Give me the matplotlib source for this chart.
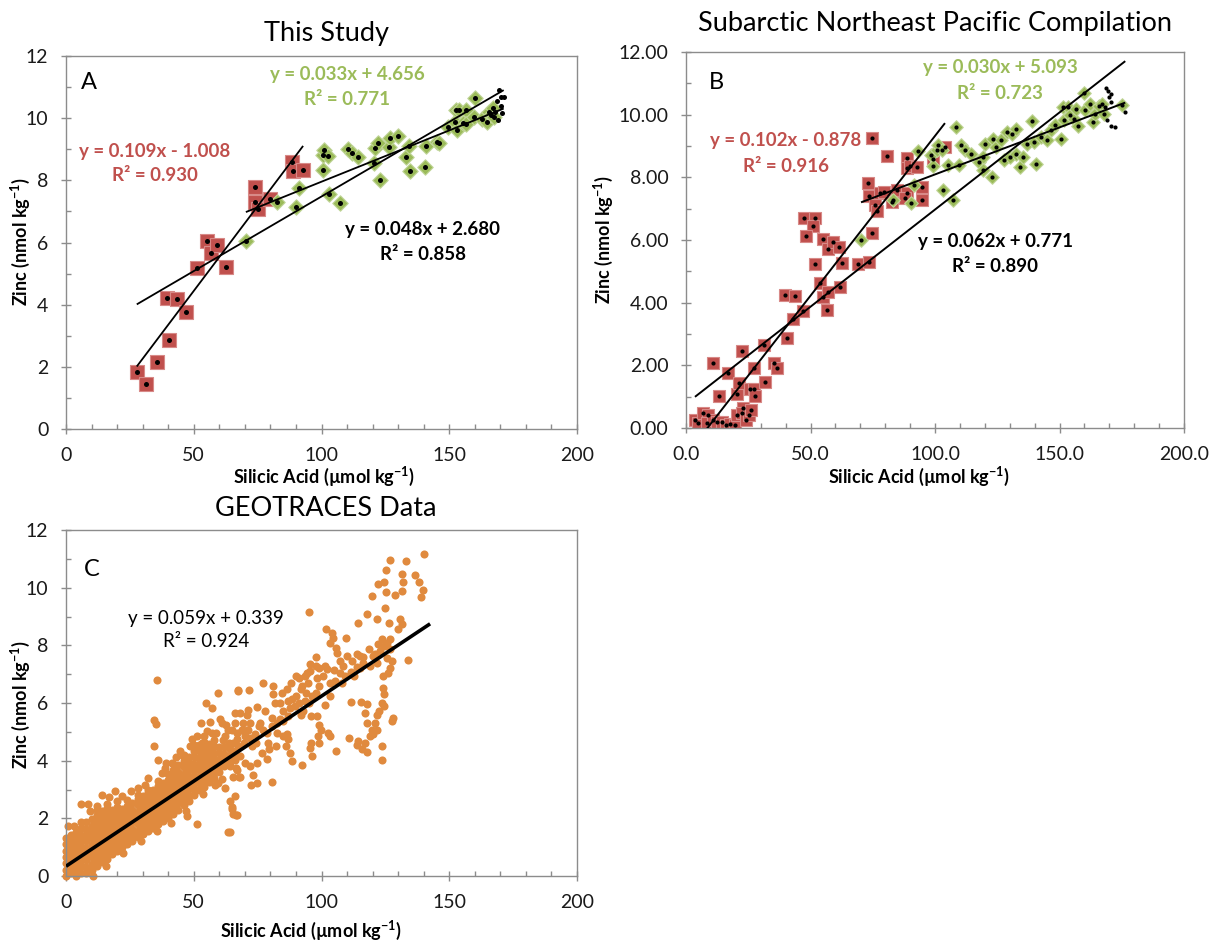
import numpy as np
import matplotlib
matplotlib.use("Agg")
import matplotlib.pyplot as plt
from matplotlib.ticker import MultipleLocator, FormatStrFormatter

plt.rcParams["font.family"] = ["Lato", "DejaVu Sans"]
plt.rcParams["mathtext.fontset"] = "custom"
plt.rcParams["mathtext.rm"] = "Lato"
plt.rcParams["mathtext.bf"] = "Lato:bold"
plt.rcParams["mathtext.it"] = "Lato:italic"

# ---- Panel A: this study ----
a_upper_si = [27.7, 31.2, 35.7, 40.5, 39.6, 43.5, 46.8, 51.3, 55.0, 56.7, 59.0, 62.6,
              74.0, 74.0, 75.3, 79.7, 88.3, 88.8, 92.8]
a_upper_zn = [1.84, 1.45, 2.14, 2.86, 4.23, 4.17, 3.75, 5.19, 6.04, 5.67, 5.93, 5.22,
              7.77, 7.31, 7.07, 7.40, 8.60, 8.29, 8.33]
a_deep_si = [70.4, 82.5, 91.3, 90.1, 100.6, 101.0, 102.5, 100.6, 103.1, 107.2, 110.3,
             112.1, 114.2, 120.5, 120.8, 122.0, 122.9, 126.5, 126.9, 129.9, 133.0, 134.2,
             134.5, 141.0, 140.4, 145.4, 145.9, 149.6, 152.2, 152.5, 154.0, 153.2, 155.2,
             156.6, 156.6, 160.2, 159.8, 163.0, 164.6, 165.6, 166.4, 167.1, 167.6]
a_deep_zn = [6.06, 7.30, 7.76, 7.15, 8.80, 8.98, 8.78, 8.33, 7.56, 7.28, 9.01,
             8.87, 8.74, 8.57, 9.03, 9.21, 8.01, 9.08, 9.37, 9.43, 8.76, 9.12,
             8.30, 9.12, 8.44, 9.24, 9.19, 9.73, 9.89, 10.26, 10.26, 9.62, 9.83,
             10.26, 9.81, 10.66, 10.03, 9.97, 9.89, 10.21, 10.10, 10.32, 10.03]
a_other_si = [168.5, 169.4, 170.1, 171.3, 170.1, 170.6, 168.0, 169.0]
a_other_zn = [10.55, 10.90, 10.69, 10.69, 10.39, 10.18, 10.20, 9.95]
a_fits = {"upper": (0.109, -1.008, 0.930), "deep": (0.033, 4.656, 0.771),
          "all": (0.048, 2.680, 0.858)}

# ---- Panel B: subarctic NE Pacific compilation ----
b_upper = [(3.6, 0.26), (4.9, 0.15), (6.9, 0.49), (9.0, 0.41), (8.3, 0.15), (10.7, 0.26),
           (12.3, 0.20), (13.4, 1.02), (14.3, 0.20), (16.1, 0.10), (16.7, 1.77), (17.7, 0.13),
           (19.7, 0.10), (20.6, 1.09), (20.4, 0.41), (22.4, 2.47), (21.4, 1.45), (23.0, 0.63),
           (22.4, 0.49), (24.1, 0.26), (25.4, 0.41), (26.1, 0.59), (25.7, 1.23), (27.3, 1.23),
           (27.7, 1.02), (27.4, 1.90), (31.3, 2.65), (31.7, 1.48), (35.5, 2.08), (36.4, 1.92),
           (10.7, 2.08), (40.4, 2.88), (39.8, 4.25), (43.8, 4.21), (43.1, 3.47), (47.1, 3.74),
           (47.4, 6.69), (51.8, 6.69), (51.1, 6.45), (48.1, 6.13), (51.8, 5.23), (53.8, 4.64),
           (54.9, 4.17), (56.5, 3.77), (54.9, 6.02), (57.2, 5.70), (59.2, 5.95), (61.6, 5.79),
           (62.8, 5.26), (61.8, 4.51), (57.2, 4.35), (69.2, 5.23), (73.6, 5.31), (74.6, 6.23),
           (73.2, 7.81), (73.6, 7.40), (75.9, 7.12), (76.6, 6.94), (77.9, 7.49), (79.5, 7.54),
           (82.6, 7.22), (84.6, 7.60), (88.6, 8.61), (88.6, 8.29), (90.0, 8.36), (92.9, 8.34),
           (94.6, 7.70), (94.6, 7.28), (88.6, 7.49), (88.0, 7.33), (104.0, 8.98), (74.8, 9.27),
           (80.9, 8.68), (99.0, 8.60)]
b_deep = [(70.3, 6.01), (83.2, 7.28), (90.2, 7.18), (91.5, 7.77), (93.1, 8.84), (98.5, 8.70),
          (99.3, 8.35), (100.9, 8.86), (101.2, 9.02), (102.7, 8.86), (103.2, 7.58), (105.1, 8.38),
          (107.1, 7.28), (108.4, 9.61), (109.8, 8.38), (110.5, 9.02), (112.1, 8.86), (114.4, 8.75),
          (117.6, 8.49), (119.1, 8.65), (119.1, 8.22), (120.2, 9.07), (123.0, 8.01), (123.3, 9.23),
          (124.3, 8.97), (126.5, 9.20), (127.7, 8.54), (129.0, 9.45), (130.1, 8.65), (131.1, 9.39),
          (132.7, 9.55), (132.7, 8.75), (134.3, 8.33), (135.5, 8.65), (137.1, 9.07), (139.0, 9.80),
          (139.9, 9.13), (140.5, 8.43), (142.5, 9.29), (144.9, 9.20), (146.5, 9.50), (148.0, 9.66),
          (150.8, 9.23), (151.9, 9.82), (151.4, 10.24), (153.5, 10.24), (154.3, 9.98), (155.8, 9.87),
          (156.6, 10.19), (157.4, 9.63), (159.7, 10.69), (160.2, 10.14), (162.1, 10.35),
          (163.3, 9.77), (164.4, 10.03), (166.0, 10.27), (167.1, 10.35), (168.0, 10.03),
          (175.3, 10.30)]
b_other = [(168.8, 10.86), (169.4, 10.76), (170.6, 10.67), (169.9, 10.56), (169.1, 9.82),
           (170.6, 9.63), (172.2, 9.61), (176.4, 10.09), (168.4, 10.24), (170.8, 10.40)]
b_fits = {"upper": (0.102, -0.878, 0.916), "deep": (0.030, 5.093, 0.723),
          "all": (0.062, 0.771, 0.890)}

# ---- Panel C: GEOTRACES ----
# dense low-silicate band: (silicic acid, [zinc values]) per column
geo_band = [
    (0.0, [0.00, 0.22, 0.44, 0.66, 0.88, 1.10, 1.32]),
    (2.0, [0.11, 0.33, 0.55, 0.77, 0.99, 1.21, 1.43]),
    (4.0, [0.00, 0.22, 0.44, 0.66, 0.88, 1.10, 1.32, 1.54]),
    (6.0, [0.11, 0.33, 0.55, 0.77, 0.99, 1.21, 1.43, 1.65, 1.87]),
    (8.0, [0.10, 0.32, 0.54, 0.76, 0.98, 1.20, 1.42, 1.64, 1.86]),
    (10.0, [0.21, 0.43, 0.65, 0.87, 1.09, 1.31, 1.53, 1.75, 1.97]),
    (12.0, [0.35, 0.57, 0.79, 1.01, 1.23, 1.45, 1.67, 1.89, 2.11, 2.30]),
    (14.0, [0.50, 0.72, 0.94, 1.16, 1.38, 1.60, 1.82, 2.04, 2.26]),
    (16.0, [0.60, 0.82, 1.04, 1.26, 1.48, 1.70, 1.92, 2.14, 2.36, 2.50]),
    (18.0, [0.75, 0.97, 1.19, 1.41, 1.63, 1.85, 2.07, 2.29]),
    (20.0, [0.85, 1.07, 1.29, 1.51, 1.73, 1.95, 2.17, 2.39, 2.60]),
    (22.0, [1.00, 1.22, 1.44, 1.66, 1.88, 2.10, 2.32]),
    (24.0, [1.10, 1.32, 1.54, 1.76, 1.98, 2.20, 2.42, 2.64]),
    (26.0, [1.20, 1.42, 1.64, 1.86, 2.08, 2.30, 2.52]),
    (28.0, [1.35, 1.57, 1.79, 2.01, 2.23, 2.45, 2.67, 2.80]),
    (30.0, [1.45, 1.67, 1.89, 2.11, 2.33, 2.55, 2.77]),
    (32.0, [1.55, 1.77, 1.99, 2.21, 2.43, 2.65, 2.87, 3.00]),
    (34.0, [1.65, 1.87, 2.09, 2.31, 2.53, 2.75, 2.97]),
    (36.0, [1.80, 2.02, 2.24, 2.46, 2.68, 2.90, 3.12, 3.30]),
    (38.0, [1.90, 2.12, 2.34, 2.56, 2.78, 3.00, 3.22]),
    (40.0, [2.00, 2.22, 2.44, 2.66, 2.88, 3.10, 3.32, 3.54]),
    (42.0, [2.15, 2.37, 2.59, 2.81, 3.03, 3.25, 3.47, 3.69, 3.90]),
    (44.0, [2.30, 2.52, 2.74, 2.96, 3.18, 3.40, 3.62, 3.84]),
    (46.0, [2.45, 2.67, 2.89, 3.11, 3.33, 3.55, 3.77, 3.99, 4.21]),
    (48.0, [2.60, 2.82, 3.04, 3.26, 3.48, 3.70, 3.92, 4.14]),
    (50.0, [2.80, 3.02, 3.24, 3.46, 3.68, 3.90, 4.12, 4.34, 4.56]),
    (52.0, [3.00, 3.22, 3.44, 3.66, 3.88, 4.10, 4.32, 4.54]),
    (54.0, [3.10, 3.32, 3.54, 3.76, 3.98, 4.20, 4.42, 4.64, 4.86]),
    (56.0, [3.25, 3.47, 3.69, 3.91, 4.13, 4.35, 4.57]),
    (58.0, [3.40, 3.62, 3.84, 4.06, 4.28, 4.50, 4.72]),
    (60.0, [3.60, 3.82, 4.04, 4.26, 4.48]),
    (62.0, [3.80, 4.02, 4.24, 4.46]),
    (64.0, [3.95, 4.17, 4.39]),
    (66.0, [4.10, 4.32]),
]
geo_spread = [
    (35.5, 6.79), (34.3, 5.40), (35.1, 5.28), (34.3, 4.50), (36.1, 4.04), (59.6, 6.35),
    (67.2, 6.44), (71.6, 6.44), (54.7, 5.99), (57.0, 5.82), (52.8, 5.31), (49.2, 4.75),
    (47.2, 2.08), (51.4, 1.82), (63.3, 1.53), (64.8, 2.31), (66.8, 2.11), (64.2, 2.61),
    (59.4, 3.21), (62.2, 3.04), (67.8, 3.45), (0.9, 1.74), (5.9, 2.50), (8.7, 2.50),
    (12.0, 2.43), (13.9, 2.81), (19.2, 2.96), (55.1, 5.02), (60.9, 5.31), (63.5, 5.08),
    (66.1, 5.31), (68.7, 5.08), (71.3, 5.77), (21.8, 2.76), (28.3, 3.05), (32.2, 3.40),
    (37.4, 3.58), (41.4, 3.93), (45.9, 4.16), (50.5, 4.45), (53.1, 4.62), (57.0, 4.97),
    (62.2, 4.85),
    (44.5, 4.35), (38.7, 3.75), (31.0, 3.15), (25.3, 2.95), (17.0, 2.75), (9.5, 2.25),
    (3.0, 1.75), (47.0, 2.25), (53.5, 2.85), (58.5, 3.15), (41.0, 1.85), (29.5, 1.20),
    (35.8, 1.55), (22.5, 0.80), (15.5, 0.35), (10.5, 0.00), (56.3, 5.35), (60.2, 5.45),
    (62.8, 5.25), (61.0, 3.35), (66.5, 3.75), (58.8, 4.95), (61.5, 4.70), (63.7, 4.62),
    (48.7, 4.52), (51.3, 4.85), (43.2, 4.12), (39.3, 3.92),
    (140.1, 11.17), (126.8, 10.96), (132.9, 10.91), (125.3, 10.62), (131.5, 10.49),
    (136.6, 10.43), (124.5, 10.18), (122.3, 10.12), (131.9, 10.18), (138.3, 10.20),
    (139.9, 9.91), (138.8, 9.66), (119.6, 9.71), (125.2, 9.85), (128.7, 9.74), (131.4, 9.88),
    (124.9, 9.28), (95.1, 9.14), (117.7, 9.08), (121.6, 8.93), (126.6, 8.76), (130.7, 8.90),
    (131.7, 8.73), (130.1, 8.56), (114.4, 8.76), (134.0, 7.49), (101.6, 8.58), (104.0, 8.44),
    (104.6, 8.26), (103.3, 8.09), (109.6, 8.24), (105.6, 7.92), (106.0, 7.72), (97.9, 7.60),
    (95.4, 7.36), (99.1, 7.22), (101.4, 7.28), (104.9, 7.16), (108.6, 7.28), (113.8, 7.69),
    (116.4, 7.60), (118.7, 7.86), (120.9, 7.69), (122.3, 8.03), (124.5, 7.97), (126.8, 7.86),
    (125.5, 7.57), (127.4, 7.46), (121.6, 7.40), (119.0, 7.28), (116.4, 7.40), (113.8, 7.26),
    (111.7, 7.08), (112.7, 6.94), (123.9, 6.94), (126.1, 7.05), (126.8, 7.22), (124.2, 6.53),
    (124.5, 6.30), (123.6, 6.01), (122.6, 5.72), (121.6, 5.60), (120.9, 5.31), (121.9, 5.08),
    (120.3, 4.91), (123.8, 4.50), (123.5, 4.01), (124.5, 5.89), (127.8, 5.48), (127.4, 5.37),
    (117.7, 5.95), (117.0, 5.66), (117.7, 5.31), (119.6, 5.08), (119.0, 4.85), (115.3, 6.03),
    (111.4, 6.03), (110.8, 4.80), (114.4, 4.68), (113.8, 4.56), (117.0, 4.62), (115.7, 4.39),
    (117.7, 4.29), (105.7, 4.33), (103.3, 4.85), (102.6, 4.97), (99.1, 4.62), (95.9, 4.62),
    (95.5, 4.45), (98.7, 4.85), (99.7, 5.08), (99.1, 5.25), (95.9, 5.54), (98.3, 5.54),
    (101.4, 5.92), (93.6, 6.07), (91.0, 6.01), (91.9, 5.60), (88.3, 6.15), (87.6, 5.84),
    (85.1, 5.72), (81.8, 6.01), (81.2, 6.30), (84.4, 6.36), (86.6, 6.50), (88.1, 6.71),
    (91.0, 6.85), (93.6, 6.94), (94.5, 7.03), (95.6, 7.11), (97.8, 7.28), (98.4, 6.85),
    (99.1, 6.58), (97.9, 6.35), (96.2, 6.24), (94.0, 6.35), (92.1, 6.47), (103.3, 6.24),
    (103.3, 6.70), (105.3, 6.76), (107.9, 6.70), (109.2, 6.94), (81.2, 6.59), (77.2, 6.71),
    (77.9, 5.72), (80.5, 5.48), (82.4, 5.31), (85.1, 5.37), (86.4, 4.91), (87.0, 4.74),
    (86.1, 4.50), (87.7, 4.27), (88.3, 3.98), (92.2, 3.86), (96.1, 4.15), (78.7, 4.97),
    (82.0, 4.50), (79.6, 4.39), (76.6, 4.27), (78.7, 4.06), (74.6, 3.92), (72.0, 3.80),
    (72.3, 3.16), (74.6, 3.24), (73.3, 3.51), (80.5, 3.27), (72.0, 5.31), (70.7, 5.60),
    (68.1, 5.66), (71.3, 5.08), (73.9, 4.91), (74.3, 4.62), (69.7, 4.62), (74.6, 5.86),
    (75.7, 5.19), (67.4, 6.42), (66.1, 5.66), (66.8, 4.74), (68.1, 3.45), (66.1, 2.76),
    (65.2, 2.15), (66.5, 2.11), (64.8, 2.41), (64.2, 1.53),
    (64.8, 5.08), (66.8, 4.97), (68.8, 5.08), (70.1, 4.85), (65.5, 4.62), (67.4, 4.50),
    (64.8, 4.27), (66.1, 4.04), (64.2, 3.80), (65.2, 3.45), (69.4, 5.31), (70.7, 5.08),
    (72.0, 4.79), (72.7, 4.50), (68.1, 4.16), (70.1, 3.92), (66.8, 3.69),
    (83.8, 6.01), (86.9, 6.07), (89.5, 5.89), (92.7, 5.72), (95.3, 6.01), (90.1, 6.24),
    (86.9, 5.54), (83.8, 5.43), (80.5, 5.19), (77.2, 5.08), (75.9, 5.31), (82.5, 4.97),
    (85.1, 4.85), (79.2, 4.62), (90.1, 6.94), (92.2, 6.59), (94.8, 6.71), (100.7, 6.94),
    (102.0, 7.18), (107.2, 7.05), (111.8, 7.46), (115.0, 7.63), (120.3, 7.63), (122.9, 7.81),
    (125.5, 8.09), (126.8, 8.21), (123.5, 8.21), (115.0, 7.22), (109.8, 7.63), (107.2, 7.46),
]
c_fit = (0.059, 0.339, 0.924)
c_fit_span = [0.0, 142.5]

RED, RED_EDGE = "#C0504D", "#D88A88"
GREEN, GREEN_EDGE = "#9BBB59", "#C2D69A"
ORANGE = "#E08A3E"
GREY = "#8C8C8C"

W, H = 1209, 941
fig = plt.figure(figsize=(W / 100, H / 100), dpi=100)


def box(l, t, r, b):
    return [l / W, 1 - b / H, (r - l) / W, (b - t) / H]


def px_text(x, y, s, **kw):
    fig.text(x / W, 1 - y / H, s, ha="center", va="center", **kw)


def style(ax, xfmt, yfmt):
    ax.set_xlim(0, 200)
    ax.set_ylim(0, 12)
    ax.xaxis.set_major_locator(MultipleLocator(50))
    ax.xaxis.set_minor_locator(MultipleLocator(10))
    ax.yaxis.set_major_locator(MultipleLocator(2))
    ax.yaxis.set_minor_locator(MultipleLocator(1))
    ax.xaxis.set_major_formatter(FormatStrFormatter(xfmt))
    ax.yaxis.set_major_formatter(FormatStrFormatter(yfmt))
    for sp in ax.spines.values():
        sp.set_color(GREY)
        sp.set_linewidth(1.0)
    ax.tick_params(which="major", direction="inout", length=7.5, width=1.0,
                   color=GREY, labelsize=14, pad=9, labelcolor="#1a1a1a")
    ax.tick_params(which="minor", direction="in", length=3.8, width=1.0, color=GREY)


def fit_line(ax, fit, xs, lw):
    m, c, _ = fit
    x = np.array([min(xs), max(xs)])
    ax.plot(x, m * x + c, color="black", lw=lw, zorder=3, solid_capstyle="butt")


def eq_label(ax, x, y, fit, color, bold=True, size=13.5):
    m, c, r2 = fit
    sign = "+" if c >= 0 else "-"
    w = "bold" if bold else "normal"
    ax.text(x, y, f"y = {m:.3f}x {sign} {abs(c):.3f}", color=color, fontsize=size,
            fontweight=w, ha="center", va="center", zorder=5)
    ax.text(x, y - 0.8, f"R² = {r2:.3f}", color=color, fontsize=size,
            fontweight=w, ha="center", va="center", zorder=5)


XLAB = r"Silicic Acid (µmol kg$\mathbf{^{-1}}$)"
YLAB = r"Zinc (nmol kg$\mathbf{^{-1}}$)"

# Panel A
axA = fig.add_axes(box(66, 56, 577, 429))
style(axA, "%d", "%d")
axA.scatter(a_upper_si, a_upper_zn, marker="s", s=90, c=RED, edgecolors=RED_EDGE,
            linewidths=0.8, zorder=2)
axA.scatter(a_deep_si, a_deep_zn, marker="D", s=62, c=GREEN, edgecolors=GREEN_EDGE,
            linewidths=0.8, zorder=2)
a_all_si = a_upper_si + a_deep_si + a_other_si
a_all_zn = a_upper_zn + a_deep_zn + a_other_zn
axA.scatter(a_all_si, a_all_zn, marker="o", s=13, c="black", linewidths=0, zorder=4)
fit_line(axA, a_fits["upper"], a_upper_si, 1.3)
fit_line(axA, a_fits["deep"], a_deep_si + a_other_si, 1.3)
fit_line(axA, a_fits["all"], a_all_si, 1.3)
eq_label(axA, 34.8, 8.94, a_fits["upper"], RED)
eq_label(axA, 110.0, 11.39, a_fits["deep"], GREEN)
eq_label(axA, 139.7, 6.43, a_fits["all"], "black")
axA.text(9.0, 11.15, "A", fontsize=17, ha="center", va="center")
px_text(326, 33, "This Study", fontsize=19.5)
px_text(324, 476, XLAB, fontsize=13, fontweight="bold")
px_text(20, 242, YLAB, fontsize=13, fontweight="bold", rotation=90)

# Panel B
axB = fig.add_axes(box(686, 52, 1184, 428))
style(axB, "%.1f", "%.2f")
bu = np.array(b_upper)
bd = np.array(b_deep)
bo = np.array(b_other)
axB.scatter(bu[:, 0], bu[:, 1], marker="s", s=68, c=RED, edgecolors=RED_EDGE,
            linewidths=0.8, zorder=2)
axB.scatter(bd[:, 0], bd[:, 1], marker="D", s=48, c=GREEN, edgecolors=GREEN_EDGE,
            linewidths=0.8, zorder=2)
b_all = np.vstack([bu, bd, bo])
axB.scatter(b_all[:, 0], b_all[:, 1], marker="o", s=9, c="black", linewidths=0, zorder=4)
fit_line(axB, b_fits["upper"], bu[:, 0], 1.4)
fit_line(axB, b_fits["deep"], np.r_[bd[:, 0], bo[:, 0]], 1.4)
fit_line(axB, b_fits["all"], b_all[:, 0], 1.4)
eq_label(axB, 40.2, 9.16, b_fits["upper"], RED)
eq_label(axB, 126.1, 11.49, b_fits["deep"], GREEN)
eq_label(axB, 124.1, 5.94, b_fits["all"], "black")
axB.text(12.4, 11.04, "B", fontsize=17, ha="center", va="center")
px_text(935, 23, "Subarctic Northeast Pacific Compilation", fontsize=19.5)
px_text(919, 476, XLAB, fontsize=13, fontweight="bold")
px_text(603, 240, YLAB, fontsize=13, fontweight="bold", rotation=90)

# Panel C
axC = fig.add_axes(box(66, 530, 577, 876))
style(axC, "%d", "%d")
band = np.array([(si, zn) for si, zns in geo_band for zn in zns])
geo = np.vstack([band, np.array(geo_spread)])
axC.scatter(geo[:, 0], geo[:, 1], marker="o", s=34, c=ORANGE, linewidths=0, zorder=2,
            clip_on=False)
fit_line(axC, c_fit, c_fit_span, 2.6)
eq_label(axC, 54.8, 8.94, c_fit, "black", bold=False)
axC.text(10.2, 10.64, "C", fontsize=17, ha="center", va="center")
px_text(326, 508, "GEOTRACES Data", fontsize=19.5)
px_text(311, 930, XLAB, fontsize=13, fontweight="bold")
px_text(20, 705, YLAB, fontsize=13, fontweight="bold", rotation=90)

fig.savefig("out.png", dpi=100, facecolor="white")
